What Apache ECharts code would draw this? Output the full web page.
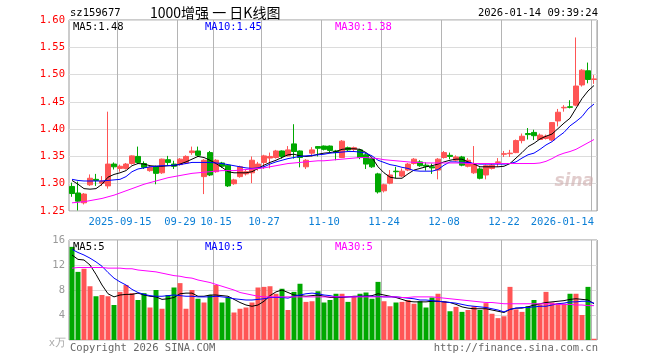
<!DOCTYPE html>
<html><head><meta charset="utf-8">
<script src="https://cdn.jsdelivr.net/npm/echarts@6/dist/echarts.min.js"></script>
<style>html,body{margin:0;padding:0;background:#fff}#c{width:660px;height:360px}</style>
</head><body><div id="c"></div>
<script>
const dates = ['2025-09-03','2025-09-04','2025-09-05','2025-09-08','2025-09-09','2025-09-10','2025-09-11','2025-09-12',
'2025-09-15','2025-09-16','2025-09-17','2025-09-18','2025-09-19','2025-09-22','2025-09-23','2025-09-24','2025-09-25','2025-09-26',
'2025-09-29','2025-09-30','2025-10-09','2025-10-10','2025-10-13','2025-10-14','2025-10-15','2025-10-16','2025-10-17','2025-10-20',
'2025-10-21','2025-10-22','2025-10-23','2025-10-24','2025-10-27','2025-10-28','2025-10-29','2025-10-30','2025-10-31','2025-11-03',
'2025-11-04','2025-11-05','2025-11-06','2025-11-07','2025-11-10','2025-11-11','2025-11-12','2025-11-13','2025-11-14','2025-11-17',
'2025-11-18','2025-11-19','2025-11-20','2025-11-21','2025-11-24','2025-11-25','2025-11-26','2025-11-27','2025-11-28','2025-12-01',
'2025-12-02','2025-12-03','2025-12-04','2025-12-05','2025-12-08','2025-12-09','2025-12-10','2025-12-11','2025-12-12','2025-12-15',
'2025-12-16','2025-12-17','2025-12-18','2025-12-19','2025-12-22','2025-12-23','2025-12-24','2025-12-25','2025-12-26','2025-12-29',
'2025-12-30','2025-12-31','2026-01-05','2026-01-06','2026-01-07','2026-01-08','2026-01-09','2026-01-12','2026-01-13','2026-01-14'];

const opens = [1.295,1.283,1.265,1.298,1.308,1.301,1.296,1.336,1.328,1.328,1.337,1.350,1.337,1.324,1.331,1.320,1.344,1.336,1.335,1.338,
1.357,1.360,1.313,1.357,1.322,1.338,1.334,1.300,1.313,1.318,1.320,1.328,1.339,1.347,1.348,1.360,1.351,1.373,1.360,1.331,
1.356,1.368,1.369,1.369,1.360,1.348,1.366,1.363,1.362,1.353,1.346,1.318,1.287,1.301,1.323,1.314,1.325,1.337,1.340,1.334,
1.331,1.325,1.348,1.352,1.343,1.349,1.332,1.320,1.327,1.316,1.328,1.339,1.354,1.355,1.357,1.379,1.392,1.394,1.381,1.383,
1.380,1.415,1.439,1.441,1.444,1.481,1.507,1.491];
const closes = [1.282,1.268,1.281,1.310,1.306,1.305,1.336,1.331,1.332,1.336,1.351,1.339,1.330,1.330,1.319,1.345,1.339,1.332,1.345,1.350,
1.360,1.352,1.343,1.316,1.343,1.332,1.296,1.307,1.331,1.322,1.343,1.336,1.351,1.350,1.360,1.350,1.362,1.359,1.348,1.343,
1.362,1.365,1.363,1.361,1.357,1.378,1.362,1.366,1.348,1.336,1.331,1.285,1.298,1.316,1.322,1.323,1.336,1.345,1.333,1.332,
1.329,1.345,1.357,1.350,1.349,1.334,1.343,1.337,1.310,1.333,1.334,1.340,1.355,1.356,1.379,1.387,1.390,1.388,1.389,1.387,
1.412,1.431,1.440,1.440,1.479,1.508,1.491,1.492];
const lows = [1.276,1.251,1.262,1.296,1.296,1.296,1.291,1.326,1.322,1.326,1.335,1.336,1.327,1.322,1.299,1.318,1.333,1.327,1.333,1.336,
1.353,1.349,1.281,1.314,1.320,1.329,1.294,1.298,1.311,1.315,1.301,1.324,1.327,1.328,1.346,1.346,1.350,1.346,1.330,1.327,
1.350,1.350,1.361,1.357,1.343,1.347,1.360,1.359,1.345,1.327,1.329,1.282,1.284,1.299,1.310,1.312,1.323,1.335,1.331,1.324,
1.318,1.308,1.346,1.345,1.341,1.332,1.330,1.318,1.308,1.308,1.326,1.331,1.349,1.349,1.356,1.374,1.381,1.380,1.380,1.381,
1.378,1.405,1.432,1.438,1.442,1.478,1.484,1.483];
const highs = [1.302,1.304,1.283,1.317,1.318,1.314,1.432,1.339,1.335,1.338,1.352,1.368,1.341,1.333,1.333,1.346,1.351,1.342,1.347,1.352,
1.368,1.368,1.345,1.360,1.345,1.340,1.336,1.309,1.333,1.325,1.350,1.340,1.353,1.357,1.362,1.361,1.369,1.409,1.361,1.345,
1.367,1.369,1.370,1.370,1.362,1.380,1.368,1.368,1.364,1.356,1.349,1.320,1.300,1.325,1.331,1.328,1.338,1.347,1.343,1.339,
1.337,1.347,1.360,1.357,1.352,1.351,1.347,1.369,1.330,1.335,1.337,1.347,1.360,1.362,1.381,1.392,1.402,1.399,1.392,1.390,
1.413,1.437,1.444,1.453,1.568,1.510,1.522,1.499];

const volumes = [14.9,10.9,11.4,8.6,7.0,7.2,7.0,5.6,7.7,8.8,7.5,6.4,7.5,5.2,8.0,5.0,7.2,8.4,9.1,5.0,
8.0,6.6,6.0,7.2,8.8,6.0,6.8,4.4,5.0,5.2,6.0,8.4,8.5,8.6,7.4,8.2,4.8,7.7,9.0,6.1,
6.2,7.8,6.0,6.4,7.4,7.4,6.1,6.9,7.4,7.6,6.6,9.3,6.2,5.4,6.0,6.1,6.4,5.8,6.2,5.2,
6.8,7.4,6.2,4.6,5.3,4.5,4.8,5.4,4.8,5.9,4.2,3.5,3.8,8.5,4.9,4.5,5.4,6.4,5.7,7.7,
6.0,5.9,5.8,7.4,7.4,4.0,8.5,0.2];

const ma5 = [1.306,1.299,1.291,1.290,1.291,1.299,1.312,1.317,1.320,1.324,1.333,1.337,1.336,1.333,1.332,1.332,1.333,1.333,1.336,1.340,
1.345,1.350,1.348,1.343,1.337,1.330,1.322,1.320,1.320,1.320,1.322,1.328,1.334,1.339,1.343,1.348,1.353,1.354,1.351,1.350,
1.351,1.354,1.356,1.357,1.359,1.363,1.364,1.364,1.363,1.357,1.348,1.331,1.320,1.312,1.310,1.310,1.318,1.325,1.328,1.331,
1.333,1.336,1.340,1.343,1.345,1.345,1.340,1.336,1.331,1.331,1.331,1.331,1.332,1.337,1.347,1.357,1.368,1.374,1.382,1.387,
1.391,1.401,1.411,1.420,1.438,1.456,1.470,1.480];
const ma10 = [1.308,1.306,1.305,1.305,1.305,1.305,1.306,1.307,1.308,1.313,1.322,1.327,1.329,1.331,1.332,1.333,1.333,1.334,1.335,1.337,
1.339,1.339,1.339,1.339,1.338,1.337,1.335,1.333,1.331,1.329,1.328,1.329,1.331,1.336,1.340,1.343,1.346,1.348,1.350,1.351,
1.352,1.353,1.354,1.356,1.357,1.358,1.359,1.359,1.358,1.356,1.351,1.343,1.339,1.335,1.333,1.330,1.328,1.324,1.323,1.323,
1.323,1.326,1.334,1.340,1.340,1.339,1.339,1.337,1.336,1.336,1.336,1.336,1.336,1.337,1.340,1.347,1.353,1.356,1.363,1.371,
1.377,1.386,1.394,1.406,1.414,1.423,1.437,1.446];
const ma30 = [1.265,1.266,1.267,1.269,1.271,1.273,1.276,1.279,1.283,1.287,1.291,1.295,1.299,1.302,1.305,1.308,1.311,1.313,1.315,1.317,
1.319,1.320,1.321,1.322,1.323,1.324,1.324,1.324,1.325,1.326,1.327,1.328,1.329,1.331,1.333,1.335,1.337,1.338,1.339,1.340,
1.341,1.342,1.342,1.343,1.344,1.345,1.346,1.347,1.348,1.348,1.347,1.346,1.344,1.343,1.342,1.341,1.340,1.339,1.339,1.338,
1.338,1.338,1.338,1.338,1.338,1.338,1.337,1.337,1.337,1.337,1.337,1.337,1.337,1.337,1.337,1.337,1.337,1.337,1.338,1.341,
1.346,1.352,1.356,1.359,1.363,1.369,1.375,1.381];

const vma5 = [13.6,12.9,12.8,12.0,10.5,8.8,7.4,6.9,7.2,7.3,7.3,7.5,7.2,7.0,6.9,6.5,6.6,6.8,7.4,7.5,
7.5,7.0,7.0,7.2,7.2,7.1,7.0,6.5,6.0,5.6,5.4,5.6,6.2,7.1,7.7,8.0,7.6,7.2,7.1,7.0,
7.1,7.2,7.0,6.8,6.8,6.8,6.9,7.0,7.0,7.0,7.1,7.4,7.2,7.0,6.8,6.5,6.2,6.1,6.1,6.1,
6.2,6.2,6.1,6.0,5.7,5.3,5.1,5.0,5.0,5.0,4.8,4.6,4.4,4.9,5.1,5.1,5.3,5.6,5.8,6.0,
6.1,6.2,6.3,6.5,6.6,6.5,6.4,5.8];
const vma10 = [14.5,14.0,13.6,13.1,12.5,11.8,10.8,9.9,9.3,8.8,8.1,7.6,7.3,7.1,7.0,7.0,7.1,7.2,7.1,7.0,
7.0,6.9,6.9,6.9,7.0,6.9,6.8,6.6,6.5,6.4,6.4,6.5,6.6,6.8,6.8,6.8,6.7,7.0,7.2,7.4,
7.5,7.4,7.2,7.1,6.9,6.9,6.9,6.9,7.0,7.0,7.0,7.0,6.9,6.9,6.9,6.8,6.7,6.6,6.4,6.4,
6.3,6.2,6.1,6.0,5.9,5.7,5.5,5.4,5.3,5.2,5.0,4.8,4.5,4.9,5.1,5.2,5.2,5.3,5.4,5.4,
5.6,5.8,5.9,6.1,6.1,6.2,6.2,5.9];
const vma30 = [11.5,11.6,11.6,11.6,11.6,11.6,11.5,11.5,11.5,11.4,11.4,11.2,11.1,11.0,10.9,10.7,10.5,10.3,10.2,10.0,
9.9,9.6,9.4,9.2,8.9,8.6,8.3,8.0,7.6,7.4,7.2,7.0,6.9,6.9,6.9,6.9,6.9,6.9,6.9,6.9,
6.9,6.9,6.9,6.9,6.9,6.9,6.9,6.9,6.9,6.9,6.9,6.9,6.9,6.9,6.9,6.8,6.8,6.9,6.9,6.9,
6.9,6.8,6.7,6.6,6.5,6.4,6.3,6.2,6.1,6.0,6.0,5.9,5.8,5.8,5.8,5.8,5.8,5.8,5.8,5.8,
5.8,5.7,5.7,5.7,5.6,5.6,5.5,5.5];

const tickIndex = [8,18,24,32,42,52,62,72,87];
const tickLabels = ['2025-09-15','09-29','10-15','10-27','11-10','11-24','12-08','12-22','2026-01-14'];

const RED = '#ff5555', GREEN = '#00a800';
const MONO = 'DejaVu Sans Mono';
const FS = 10.5;

const candles = dates.map((d,i)=>[opens[i],closes[i],lows[i],highs[i]]);
const volData = volumes.map((v,i)=>({value:v,itemStyle:{color: closes[i]>=opens[i]?RED:GREEN}}));
const tickSet = {};
tickIndex.forEach((k,j)=>{tickSet[k]=tickLabels[j];});
const isTick = (idx)=> tickSet[idx]!==undefined;
const last = dates.length-1;

// Solid fallbacks: dashed/dotted strokes did not show up in this renderer.
const vSplit = {show:true, interval:(i)=>isTick(i), lineStyle:{color:'#b4b4b4', type:'solid', width:1}};
const hSplit = {show:true, lineStyle:{color:'#dcdcdc', type:'solid', width:1}};

const chart = echarts.init(document.getElementById('c'), null, {renderer:'canvas'});
function txt(x,y,text,color,align,font){
  return {type:'text', x:x, y:y, silent:true, z:100,
    style:{text:text, x:0, y:0, fill:color, font:font||(FS+'px '+MONO), align:align||'left', verticalAlign:'middle',
      textAlign:align||'left', textVerticalAlign:'middle'}};
}
chart.setOption({
  animation:false,
  backgroundColor:'#ffffff',
  grid:[
    {left:69, top:20, width:528, height:191, show:true, borderColor:'#999999', borderWidth:1},
    {left:69, top:240, width:528, height:100, show:true, borderColor:'#999999', borderWidth:1}
  ],
  xAxis:[
    {type:'category', gridIndex:0, data:dates, boundaryGap:true,
     axisLine:{show:false}, axisTick:{show:false, interval:(i)=>isTick(i)},
     axisLabel:{show:true, interval:(i)=>isTick(i), formatter:(v,i)=>tickSet[i]||'', color:'#0b7fd6',
       fontFamily:MONO, fontSize:FS, margin:6, alignMaxLabel:'right', hideOverlap:false},
     splitLine:vSplit},
    {type:'category', gridIndex:1, data:dates, boundaryGap:true,
     axisLine:{show:false}, axisTick:{show:false, interval:(i)=>isTick(i)}, axisLabel:{show:false},
     splitLine:vSplit}
  ],
  yAxis:[
    {type:'value', gridIndex:0, min:1.25, max:1.60, interval:0.05,
     axisLine:{show:false}, axisTick:{show:false},
     axisLabel:{color:'#ff0000', fontFamily:MONO, fontSize:FS, margin:4, formatter:(v)=>v.toFixed(2)},
     splitLine:hSplit},
    {type:'value', gridIndex:1, min:0, max:16, interval:4,
     axisLine:{show:false}, axisTick:{show:false},
     axisLabel:{color:'#999999', fontFamily:MONO, fontSize:FS, margin:4, formatter:(v)=> v===0?'':String(v)},
     splitLine:hSplit}
  ],
  series:[
    {type:'candlestick', xAxisIndex:0, yAxisIndex:0, data:candles, barWidth:5,
     itemStyle:{color:RED, color0:GREEN, borderColor:RED, borderColor0:GREEN, borderColorDoji:RED, borderWidth:1}},
    {type:'line', xAxisIndex:0, yAxisIndex:0, data:ma5, symbol:'none', lineStyle:{color:'#000000', width:1}, silent:true},
    {type:'line', xAxisIndex:0, yAxisIndex:0, data:ma10, symbol:'none', lineStyle:{color:'#0000ff', width:1}, silent:true},
    {type:'line', xAxisIndex:0, yAxisIndex:0, data:ma30, symbol:'none', lineStyle:{color:'#ff00ff', width:1}, silent:true},
    {type:'bar', xAxisIndex:1, yAxisIndex:1, data:volData, barWidth:5},
    {type:'line', xAxisIndex:1, yAxisIndex:1, data:vma5, symbol:'none', lineStyle:{color:'#000000', width:1}, silent:true},
    {type:'line', xAxisIndex:1, yAxisIndex:1, data:vma10, symbol:'none', lineStyle:{color:'#0000ff', width:1}, silent:true},
    {type:'line', xAxisIndex:1, yAxisIndex:1, data:vma30, symbol:'none', lineStyle:{color:'#ff00ff', width:1}, silent:true}
  ],
  graphic:[
    txt(70,13,'sz159677','#000000'),
    txt(150,13,'1000增强 一 日K线图','#000000','left','14px "Noto Sans CJK SC"'),
    txt(598,13,'2026-01-14 09:39:24','#000000','right'),
    txt(73,27,'MA5:'+ma5[last].toFixed(2),'#000000'),
    txt(205,27,'MA10:'+ma10[last].toFixed(2),'#0000ff'),
    txt(335,27,'MA30:'+ma30[last].toFixed(2),'#ff00ff'),
    txt(73,247,'MA5:'+Math.floor(vma5[last]),'#000000'),
    txt(205,247,'MA10:'+Math.floor(vma10[last]),'#0000ff'),
    txt(335,247,'MA30:'+Math.floor(vma30[last]),'#ff00ff'),
    txt(66,343,'x万','#aaaaaa','right'),
    txt(70,348,'Copyright 2026 SINA.COM','#666666'),
    txt(598,348,'http://finance.sina.com.cn','#666666','right'),
    txt(594,182,'sina','rgba(205,170,170,0.6)','right','italic bold 17px "DejaVu Sans"')
  ]
});
</script></body></html>
